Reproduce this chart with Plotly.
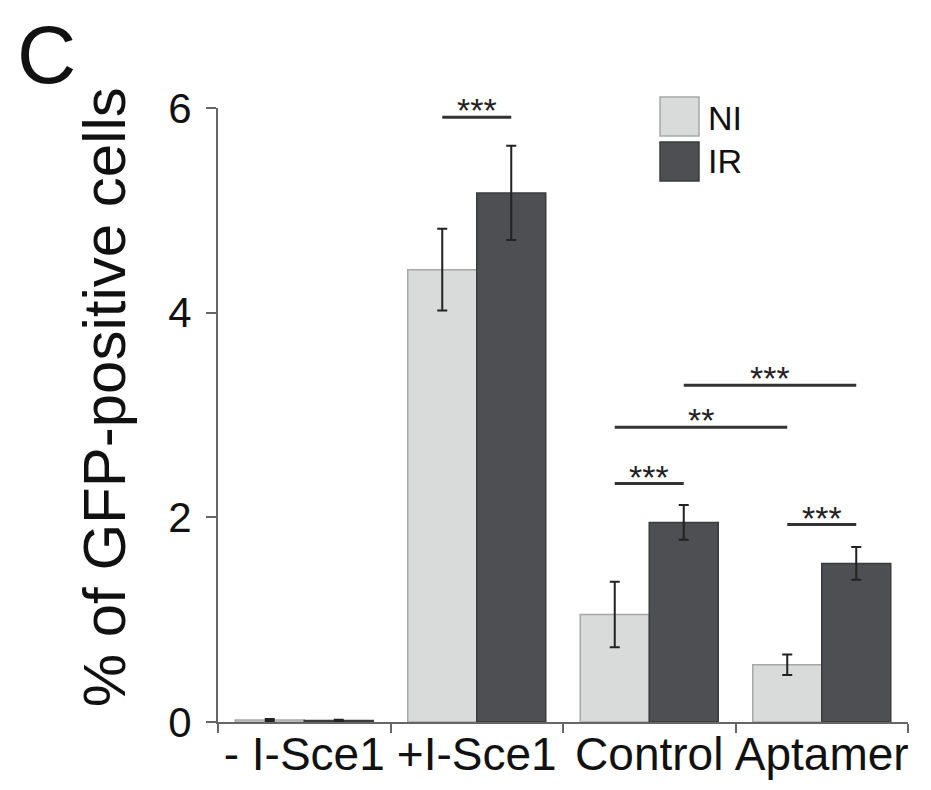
import plotly.graph_objects as go

categories = ["- I-Sce1", "+I-Sce1", "Control", "Aptamer"]
ni_values = [0.02, 4.42, 1.05, 0.56]
ni_errors = [0.01, 0.40, 0.32, 0.10]
ir_values = [0.015, 5.17, 1.95, 1.55]
ir_errors = [0.008, 0.46, 0.17, 0.16]
series_names = ["NI", "IR"]
y_ticks = [0, 2, 4, 6]

# significance brackets: (start position, end position, height, label)
sig_x0 = [0.8, 1.8, 1.8, 2.2, 2.8]
sig_x1 = [1.2, 2.2, 2.8, 3.2, 3.2]
sig_y = [5.91, 2.33, 2.88, 3.29, 1.93]
sig_label = ["***", "***", "**", "***", "***"]

FONT = "Liberation Sans, Arial, Helvetica, sans-serif"
NI_FILL, NI_LINE = "#d9dbda", "#a6a8a8"
IR_FILL, IR_LINE = "#4d4f52", "#3a3b3d"
ERR = "#222222"

fig = go.Figure()
fig.add_trace(go.Bar(
    x=categories, y=ni_values, name=series_names[0],
    marker=dict(color=NI_FILL, line=dict(color=NI_LINE, width=1.5)),
    error_y=dict(type="data", array=ni_errors, color=ERR, thickness=2, width=5),
    showlegend=False,
))
fig.add_trace(go.Bar(
    x=categories, y=ir_values, name=series_names[1],
    marker=dict(color=IR_FILL, line=dict(color=IR_LINE, width=1.5)),
    error_y=dict(type="data", array=ir_errors, color=ERR, thickness=2, width=5),
    showlegend=False,
))

for x0, x1, yv, lab in zip(sig_x0, sig_x1, sig_y, sig_label):
    fig.add_shape(type="line", xref="x", yref="y", x0=x0, x1=x1, y0=yv, y1=yv,
                  line=dict(color="#333333", width=3))
    fig.add_annotation(x=(x0 + x1) / 2, y=yv, xref="x", yref="y", text=lab,
                       showarrow=False, yanchor="middle", yshift=7,
                       font=dict(family=FONT, size=34, color="#222222"))

# custom legend (large swatches)
leg = [(series_names[0], NI_FILL, NI_LINE, 1.0179, 0.9544, 0.9837),
       (series_names[1], IR_FILL, IR_LINE, 0.9446, 0.8811, 0.9137)]
for name, fill, line, ytop, ybot, ytxt in leg:
    fig.add_shape(type="rect", xref="paper", yref="paper", x0=0.6406, x1=0.6971,
                  y0=ybot, y1=ytop, fillcolor=fill, line=dict(color=line, width=1.5))
    fig.add_annotation(xref="paper", yref="paper", x=0.7072, y=ytxt, text=name,
                       showarrow=False, xanchor="left", yanchor="middle",
                       font=dict(family=FONT, size=34, color="#111111"))

# y-axis title and panel label
fig.add_annotation(xref="paper", yref="paper", x=-0.165, y=0.529,
                   text="% of GFP-positive cells", textangle=-90, showarrow=False,
                   xanchor="center", yanchor="middle",
                   font=dict(family=FONT, size=60, color="#111111"))
fig.add_annotation(xref="paper", yref="paper", x=-0.249, y=1.087, text="C",
                   showarrow=False, xanchor="center", yanchor="middle",
                   font=dict(family=FONT, size=82, color="#111111"))

# page body has an 8px margin: size the figure to fit the 931x790 window
fig.update_layout(
    width=915, height=774,
    margin=dict(l=210, r=15, t=100, b=60),
    paper_bgcolor="white", plot_bgcolor="white",
    barmode="group", bargap=0.2, bargroupgap=0,
    font=dict(family=FONT, color="#111111"),
)
fig.update_xaxes(
    type="category", showline=True, linecolor="#666666", linewidth=2,
    ticks="outside", tickson="boundaries", ticklen=9, tickwidth=2, tickcolor="#666666",
    tickfont=dict(family=FONT, size=46, color="#111111"), tickangle=0,
    showgrid=False, zeroline=False, range=[-0.5, 3.5], automargin=False,
    ticklabelstandoff=-9,
)
fig.update_yaxes(
    range=[0, 6], tickvals=y_ticks, showline=True, linecolor="#666666", linewidth=2,
    ticks="outside", ticklen=10, tickwidth=2, tickcolor="#666666",
    tickfont=dict(family=FONT, size=42, color="#111111"),
    showgrid=False, zeroline=False, ticklabelstandoff=6, automargin=False,
)

fig.write_html("out.html")
